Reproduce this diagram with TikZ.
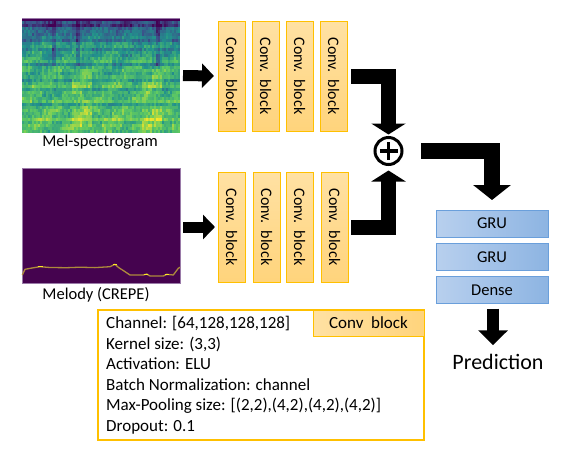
\documentclass[tikz,border=0pt]{standalone}
\usepackage{fontspec}
\setmainfont{Carlito}
\usetikzlibrary{arrows.meta}
\definecolor{vir0}{HTML}{440154}
\definecolor{vir1}{HTML}{3B528B}
\definecolor{vir2}{HTML}{21918C}
\definecolor{vir3}{HTML}{5EC962}
\definecolor{vir4}{HTML}{FDE725}
\definecolor{vir5}{HTML}{FDE725}
\definecolor{convA}{HTML}{FFE1A3}
\definecolor{convB}{HTML}{FFD47C}
\definecolor{convdraw}{HTML}{FFC000}
\definecolor{gruA}{HTML}{B8D0EE}
\definecolor{gruB}{HTML}{8DB4E2}
\definecolor{grudraw}{HTML}{6A9FDB}
\definecolor{melfill}{HTML}{45034F}
\definecolor{melborder}{HTML}{9A7AA8}
\definecolor{melline}{HTML}{AD8A3C}
\begin{document}
\begin{tikzpicture}[x=1pt,y=-1pt,
  convblock/.style={draw=convdraw, line width=1pt, top color=convA, bottom color=convB,
    minimum width=27pt, minimum height=110pt, inner sep=0pt, outer sep=0pt,
    font=\fontsize{16}{19}\selectfont},
  grubox/.style={draw=grudraw, line width=1pt, left color=gruA, right color=gruB,
    minimum width=112pt, minimum height=27pt, inner sep=0pt, outer sep=0pt,
    font=\fontsize{16.5}{19}\selectfont},
  imgbox/.style={minimum width=158pt, minimum height=115pt, inner sep=0pt, outer sep=0pt},
  lbl/.style={font=\fontsize{16.5}{19}\selectfont, inner sep=0pt},
  bigarrow/.style={line width=11pt, -{Triangle[width=24pt,length=12pt]}},
  elbow/.style={line width=15pt, line join=miter, -{Triangle[width=34pt,length=11pt]}},
  elbowwide/.style={line width=16pt, line join=miter, -{Triangle[width=37pt,length=15pt]}},
  downarrow/.style={line width=12pt, -{Triangle[width=29pt,length=15pt]}},
]
\useasboundingbox (0,0) rectangle (571,467);
\fill[white] (0,0) rectangle (571,467);

% ---------- Mel-spectrogram image ----------
\begin{scope}
\clip (22,18) rectangle (180,133);
\pgfmathsetseed{11}
\foreach \c in {0,...,78}{
  \pgfmathtruncatemacro\g{floor(\c/5)}
  \foreach \r in {0,...,37}{
    \pgfmathsetmacro\v{0.66-0.56*exp(-\r/7)+0.07*sin(\r*137.5)+0.05*cos(\r*83)
      +0.07*sin(\g*97.1+\r*31)+0.18*(rnd-0.5)
      + (\r==33)*0.22 + (\r==36)*0.12 + (\r==31)*0.08
      - ((\c==15)+(\c==16)+(\c==27)+(\c==28)+(\c==67)+(\c==68))*(\r<16)*0.18
      + ((\g==5)+(\g==6)+(\g==12)+(\g==13))*(\r>16)*0.08
      - (\r==0)*0.6}
    \pgfmathsetmacro\v{max(0,min(0.999,\v))}
    \pgfmathtruncatemacro\sa{floor(4*\v)}
    \pgfmathtruncatemacro\sb{\sa+1}
    \pgfmathsetmacro\p{100*(\sa+1-4*\v)}
    \fill[vir\sa!\p!vir\sb] ({22+\c*2},{18+\r*3.026}) rectangle ++(2.4,3.4);
  }
}
\end{scope}
\draw[melborder, line width=0.8pt] (22,18) -- (180,18);
\node[imgbox] (spec) at (101,75.5) {};
\node[lbl] (speclbl) at (100,142) {Mel-spectrogram};

% ---------- Melody image ----------
\node[imgbox, fill=melfill, draw=melborder, line width=0.6pt] (mel) at (101,225.5) {};
\draw[melline, line width=1.3pt, line join=round]
  (22.3,275) -- (25,269.3) -- (32,268) -- (40,266.7) -- (50,267.5) -- (66.7,267.7)
  -- (80,267.2) -- (95,267.6) -- (110,266.7) -- (115,264.3) -- (118.3,267.3)
  -- (124,271) -- (130,275) -- (143.3,275) -- (146.7,274) -- (150,276)
  -- (163.3,276) -- (166.7,274.3) -- (173.3,275) -- (178.3,268.3) -- (180,267.3);
\draw[vir4, line width=0.8pt] (38,266.5) -- (43,266.5);
\draw[vir4, line width=0.8pt] (113,264.8) -- (117,264.8);
\draw[vir4, line width=0.8pt] (144,274.3) -- (148,274.3);
\draw[vir4, line width=0.8pt] (165,274.5) -- (169,274.5);
\node[lbl] (mellbl) at (96,295) {Melody (CREPE)};

% ---------- Conv blocks ----------
\node[convblock] (c1) at (231.5,76) {\rotatebox{-90}{Conv.\ \ block}};
\node[convblock] (c2) at (265.5,76) {\rotatebox{-90}{Conv.\ \ block}};
\node[convblock] (c3) at (299.5,76) {\rotatebox{-90}{Conv.\ \ block}};
\node[convblock] (c4) at (333.5,76) {\rotatebox{-90}{Conv.\ \ block}};
\node[convblock] (d1) at (231.5,227) {\rotatebox{-90}{Conv.\ \ block}};
\node[convblock] (d2) at (266.5,227) {\rotatebox{-90}{Conv.\ \ block}};
\node[convblock] (d3) at (299.5,227) {\rotatebox{-90}{Conv.\ \ block}};
\node[convblock] (d4) at (334.5,227) {\rotatebox{-90}{Conv.\ \ block}};

% ---------- input arrows ----------
\draw[bigarrow] ([xshift=3pt]spec.east) -- ([xshift=-4pt]c1.west);
\draw[bigarrow] ([xshift=3pt]mel.east |- d1.west) -- ([xshift=-3pt]d1.west);

% ---------- sum node ----------
\node[circle, draw, line width=3pt, minimum size=27pt, inner sep=0pt, outer sep=0pt] (plus) at (388.5,151) {};
\draw[line width=3.6pt] ([xshift=-9pt]plus.center) -- ([xshift=9pt]plus.center);
\draw[line width=3.6pt] ([yshift=-9pt]plus.center) -- ([yshift=9pt]plus.center);

\draw[elbow] ([xshift=4pt]c4.east) -| ([yshift=3pt]plus.north);
\draw[elbow] ([xshift=3pt]d4.east) -| ([yshift=-6pt]plus.south);

% ---------- recurrent part ----------
\node[grubox] (g1) at (492,223.5) {GRU};
\node[grubox] (g2) at (492,257) {GRU};
\node[grubox] (dense) at (492,290) {Dense};
\draw[elbowwide] ([xshift=19pt]plus.east) -| ([yshift=10pt]g1.north);

\node[font=\fontsize{22}{26}\selectfont, inner sep=0pt, outer sep=0pt] (pred) at (498,362) {Prediction};
\draw[downarrow] ([xshift=1pt,yshift=-5pt]dense.south) -- ([xshift=-5pt,yshift=9pt]pred.north);

% ---------- info box ----------
\node[draw=convdraw, line width=1.2pt, minimum width=326pt, minimum height=130pt, inner sep=0pt, outer sep=0pt] (info) at (261,375) {};
\node[draw=convdraw, line width=1pt, left color=convA, right color=convB, minimum width=111pt, minimum height=26pt, inner sep=0pt, outer sep=0pt, font=\fontsize{17}{20}\selectfont, anchor=north east] (hdr) at (info.north east) {Conv\ \ block};
\node[anchor=north west, align=left, inner sep=0pt, font=\fontsize{17}{20.6}\selectfont] (infotext) at (106,316)
  {Channel: [64,128,128,128]\\
   Kernel size: (3,3)\\
   Activation: ELU\\
   Batch Normalization: channel\\
   Max-Pooling size: [(2,2),(4,2),(4,2),(4,2)]\\
   Dropout: 0.1};
\end{tikzpicture}
\end{document}
